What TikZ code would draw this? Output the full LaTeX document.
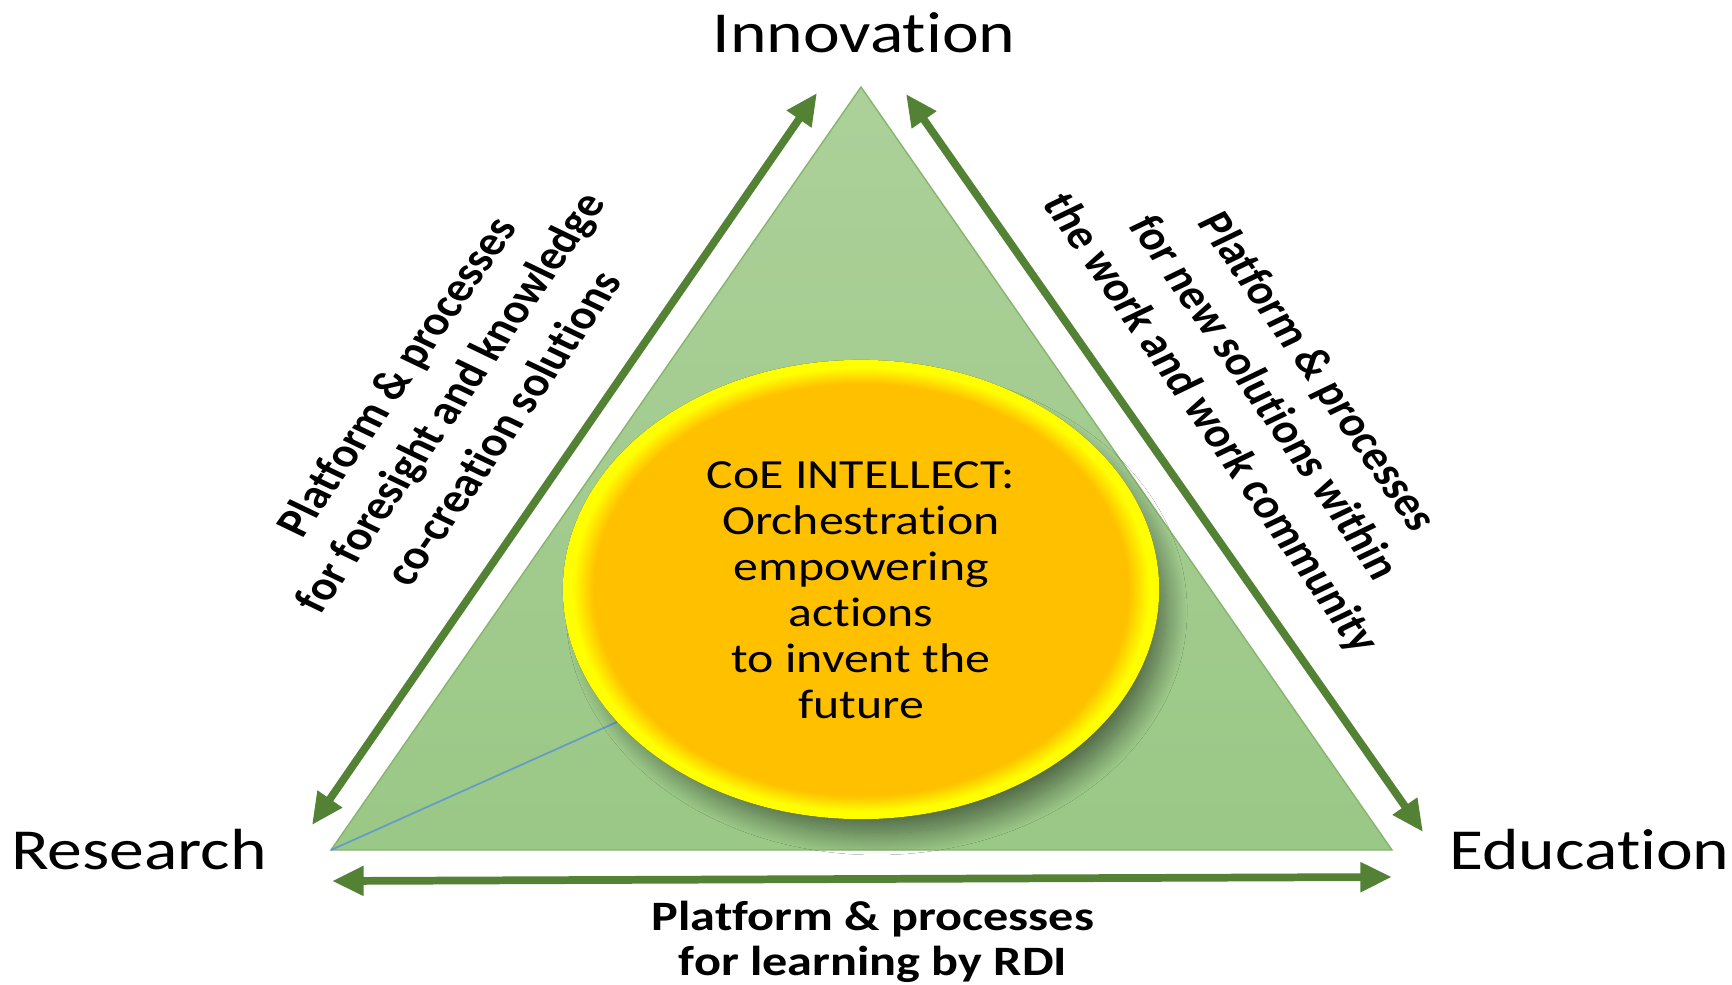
\documentclass[tikz,border=0pt]{standalone}
\usepackage{fontspec}
\setmainfont{Carlito}[Ligatures=NoCommon]
\usetikzlibrary{arrows.meta,shadows.blur}
\definecolor{arrowgreen}{RGB}{84,130,53}
\definecolor{trtop}{RGB}{172,208,153}
\definecolor{trbot}{RGB}{154,200,134}
\definecolor{trline}{RGB}{135,180,110}
\definecolor{ellin}{RGB}{255,192,0}
\definecolor{ellout}{RGB}{255,255,0}
\definecolor{blueline}{RGB}{100,155,200}
\definecolor{shadowcol}{RGB}{40,60,30}
\pgfdeclareradialshading{glowell}{\pgfpoint{0bp}{0bp}}{color(0bp)=(ellin); color(22.4bp)=(ellin); color(24.2bp)=(ellout); color(25bp)=(ellout); color(50bp)=(ellout)}
\begin{document}
\begin{tikzpicture}[x=0.01cm,y=-0.01cm,
  arr/.style={arrowgreen, line width=2.2pt, {Triangle[length=9pt,width=8pt]}-{Triangle[length=9pt,width=8pt]}},
  bigl/.style={font=\fontsize{16.5pt}{19pt}\selectfont, transform shape, xscale=1.2, inner sep=0pt},
  sidetext/.style={font=\bfseries\fontsize{11.6pt}{14.6pt}\selectfont, align=center, transform shape, inner sep=0pt},
  centtext/.style={font=\fontsize{11.8pt}{13.1pt}\selectfont, align=center, transform shape, xscale=1.2, inner sep=0pt},
  bottext/.style={font=\bfseries\fontsize{11.9pt}{12.8pt}\selectfont, align=center, transform shape, xscale=1.2, inner sep=0pt}]
\useasboundingbox (0,0) rectangle (1732,984);
\fill[white] (0,0) rectangle (1732,984);
% triangle corners
\coordinate (A) at (861,87);
\coordinate (L) at (331,850);
\coordinate (R) at (1392,850);
\coordinate (B) at (617,722);
\shade[top color=trtop, bottom color=trbot, draw=trline, line width=0.4pt] (A) -- (R) -- (L) -- cycle;
\draw[blueline, line width=0.5pt] (L) -- (B);
% central ellipse
\shade[shading=glowell, blur shadow={shadow xshift=0.16cm, shadow yshift=-0.22cm, shadow blur radius=0.22cm, shadow blur steps=24, shadow opacity=50, shadow scale=0.97, fill=shadowcol}]
  (861,589.5) ellipse [x radius=2.98cm, y radius=2.295cm];
\node[centtext] (ctr) at (861,590) {CoE INTELLECT:\\Orchestration\\empowering\\actions\\to invent the\\future};
% arrows
\coordinate (la1) at (312,825);
\coordinate (la2) at (817,93);
\coordinate (ra1) at (906,94);
\coordinate (ra2) at (1423,832);
\coordinate (ba1) at (332,881);
\coordinate (ba2) at (1392,877);
\draw[arr] (la1) -- (la2);
\draw[arr] (ra1) -- (ra2);
\draw[arr] (ba1) -- (ba2);
% labels
\node[bigl, anchor=base] (inn) at (864,52) {Innovation};
\node[bigl, anchor=base] (res) at (139,869) {Research};
\node[bigl, anchor=base] (edu) at (1589.5,869) {Education};
\node[sidetext, xscale=1.2, rotate=60] (lt) at (449,402) {Platform \& processes\\for foresight and knowledge\\co-creation solutions};
\node[sidetext, xscale=1.2, rotate=-60] (rt) at (1263,398) {Platform \& processes\\for new solutions within\\the work and work community};
\node[bottext] (bt) at (873,941.5) {Platform \& processes\\for learning by RDI};
\end{tikzpicture}
\end{document}
